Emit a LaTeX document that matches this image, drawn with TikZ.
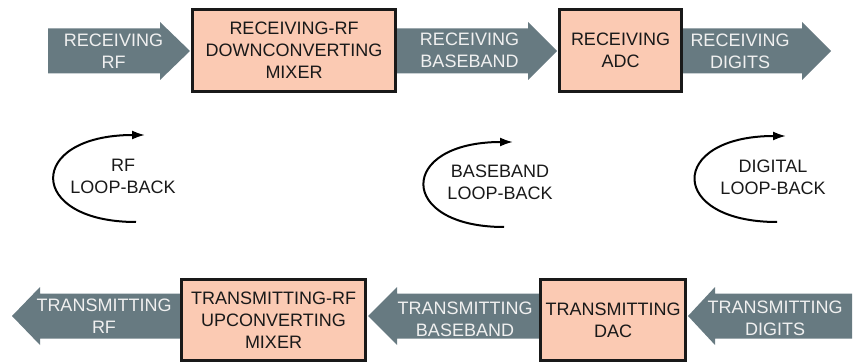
\documentclass[tikz,border=0pt]{standalone}
\usepackage{fontspec}
\setmainfont{Liberation Sans}
\usetikzlibrary{arrows.meta}

\definecolor{flowgray}{RGB}{103,122,129}
\definecolor{blockpeach}{RGB}{251,202,179}

% block arrow: tail x, head base x, tip x, centre y
\newcommand{\flowarrow}[4]{%
  \fill[flowgray] (#1,{#4-22.5}) -- (#2,{#4-22.5}) -- (#2,{#4-29}) -- (#3,#4)
    -- (#2,{#4+29}) -- (#2,{#4+22.5}) -- (#1,{#4+22.5}) -- cycle;}

\tikzset{
  block/.style={draw=black!90, line width=2.8pt, fill=blockpeach, align=center,
    inner sep=0pt, text=black!90},
  flowtext/.style={align=center, text=white!94!black},
  looptext/.style={align=center, text=black!90},
  looparrow/.style={line width=2pt, -{Latex[length=13pt,width=9pt]}}
}

\begin{document}
\begin{tikzpicture}[x=1pt, y=-1pt, font=\fontsize{18}{22}\selectfont]
\useasboundingbox (0,0) rectangle (853,363);

% receiving chain
\flowarrow{48}{160}{190}{51}
\flowarrow{397}{528}{557}{51}
\flowarrow{683}{802}{831}{51}

\node[block, minimum width=203pt, minimum height=82pt] (rxmix) at (294,50.5)
  {RECEIVING-RF\\DOWNCONVERTING\\MIXER};
\node[block, minimum width=122pt, minimum height=82pt] (rxadc) at (620.5,50.5)
  {RECEIVING\\ADC};

\node[flowtext] (rxrf) at (113.5,51) {RECEIVING\\RF};
\node[flowtext] (rxbb) at (469.5,50) {RECEIVING\\BASEBAND};
\node[flowtext] (rxdig) at (740,51) {RECEIVING\\DIGITS};

% loop-back paths
\coordinate (rfin) at (136,222);
\coordinate (rfout) at (145,135);
\draw[looparrow] (rfin) .. controls +(-110,0) and +(-119,0) .. (rfout);
\node[looptext] (rfloop) at (123,176.5) {RF\\LOOP-BACK};

\coordinate (bbin) at (504,227);
\coordinate (bbout) at (513,142);
\draw[looparrow] (bbin) .. controls +(-107,0) and +(-116,0) .. (bbout);
\node[looptext] (bbloop) at (500,182.5) {BASEBAND\\LOOP-BACK};

\coordinate (digin) at (777,222);
\coordinate (digout) at (786,136);
\draw[looparrow] (digin) .. controls +(-109.5,0) and +(-118.5,0) .. (digout);
\node[looptext] (digloop) at (773,177.5) {DIGITAL\\LOOP-BACK};

% transmitting chain
\flowarrow{180}{40}{12}{316}
\flowarrow{539}{397}{368}{316}
\flowarrow{852}{715}{688}{316}

\node[block, minimum width=184.5pt, minimum height=81.5pt] (txmix) at (273.5,320)
  {TRANSMITTING-RF\\UPCONVERTING\\MIXER};
\node[block, minimum width=145.5pt, minimum height=81.5pt] (txdac) at (613,320)
  {TRANSMITTING\\DAC};

\node[flowtext] (txrf) at (104,316.5) {TRANSMITTING\\RF};
\node[flowtext] (txbb) at (465,319) {TRANSMITTING\\BASEBAND};
\node[flowtext] (txdig) at (775,318.5) {TRANSMITTING\\DIGITS};

\end{tikzpicture}
\end{document}
